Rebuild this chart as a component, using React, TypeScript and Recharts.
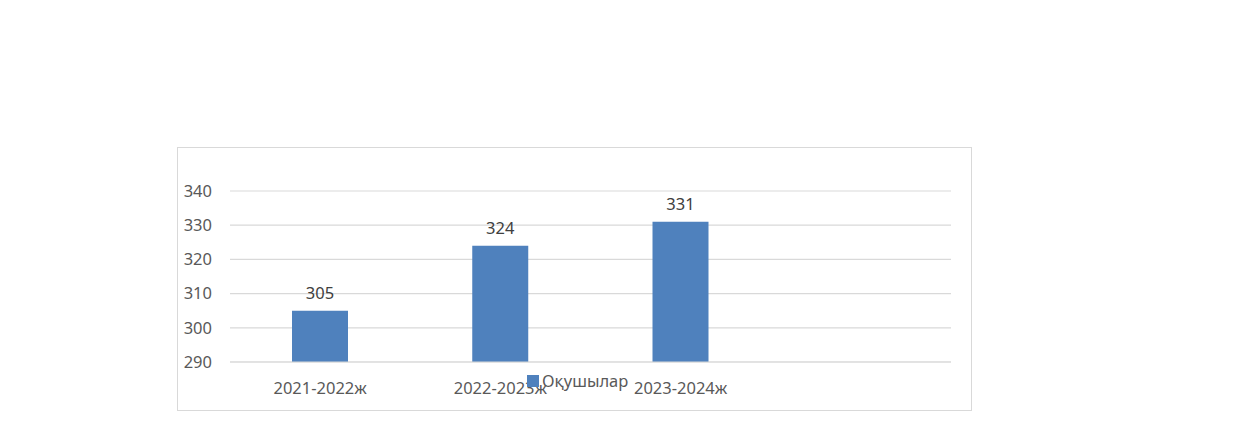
import { Bar, BarChart, CartesianGrid, LabelList, Legend, XAxis, YAxis } from "recharts";

const years = ["2021-2022ж", "2022-2023ж", "2023-2024ж", ""];
const students = [305, 324, 331, null];
const yTicks = [290, 300, 310, 320, 330, 340];

const data = years.map((year, i) => ({ year, students: students[i] }));

const FONT = "'Noto Sans', 'Open Sans', sans-serif";
const TEXT = "#595959";
const BLUE = "#4f81bd";
const FS = 16.5;

function LegendContent() {
  return (
    <div style={{ display: "flex", alignItems: "center", fontFamily: FONT, fontSize: FS, color: TEXT, whiteSpace: "nowrap" }}>
      <span style={{ width: 12, height: 12, background: BLUE, display: "inline-block", marginRight: 3 }} />
      Оқушылар
    </div>
  );
}

export default function App() {
  return (
    <div style={{ position: "absolute", top: 0, left: 0, width: 1241, height: 444, background: "#fff" }}>
      <div
        style={{
          position: "absolute",
          left: 177,
          top: 147,
          width: 795,
          height: 264,
          border: "1px solid #d9d9d9",
          boxSizing: "border-box",
        }}
      />
      <div style={{ position: "absolute", left: 0, top: 0 }}>
        <BarChart
          width={1241}
          height={444}
          data={data}
          margin={{ top: 191, right: 290, bottom: 52, left: 170 }}
        >
          <CartesianGrid vertical={false} stroke="#d9d9d9" strokeWidth={1.2} />
          <XAxis
            dataKey="year"
            height={30}
            tickLine={false}
            axisLine={{ stroke: "#d9d9d9" }}
            tickSize={6}
            tickMargin={14}
            tick={{ fill: TEXT, fontSize: FS, fontFamily: FONT }}
            interval={0}
          />
          <YAxis
            width={60}
            domain={[290, 340]}
            ticks={yTicks}
            tickLine={false}
            axisLine={false}
            tickSize={6}
            tickMargin={12}
            tick={{ fill: TEXT, fontSize: FS, fontFamily: FONT }}
          />
          <Legend
            layout="horizontal"
            verticalAlign="middle"
            align="center"
            content={<LegendContent />}
            wrapperStyle={{ position: "absolute", top: 369, left: 527, width: "auto", bottom: "auto" }}
          />
          <Bar dataKey="students" name="Оқушылар" fill={BLUE} barSize={56} isAnimationActive={false}>
            <LabelList
              dataKey="students"
              position="top"
              offset={12}
              fill="#404040"
              fontSize={FS}
              fontFamily={FONT}
            />
          </Bar>
        </BarChart>
      </div>
    </div>
  );
}
